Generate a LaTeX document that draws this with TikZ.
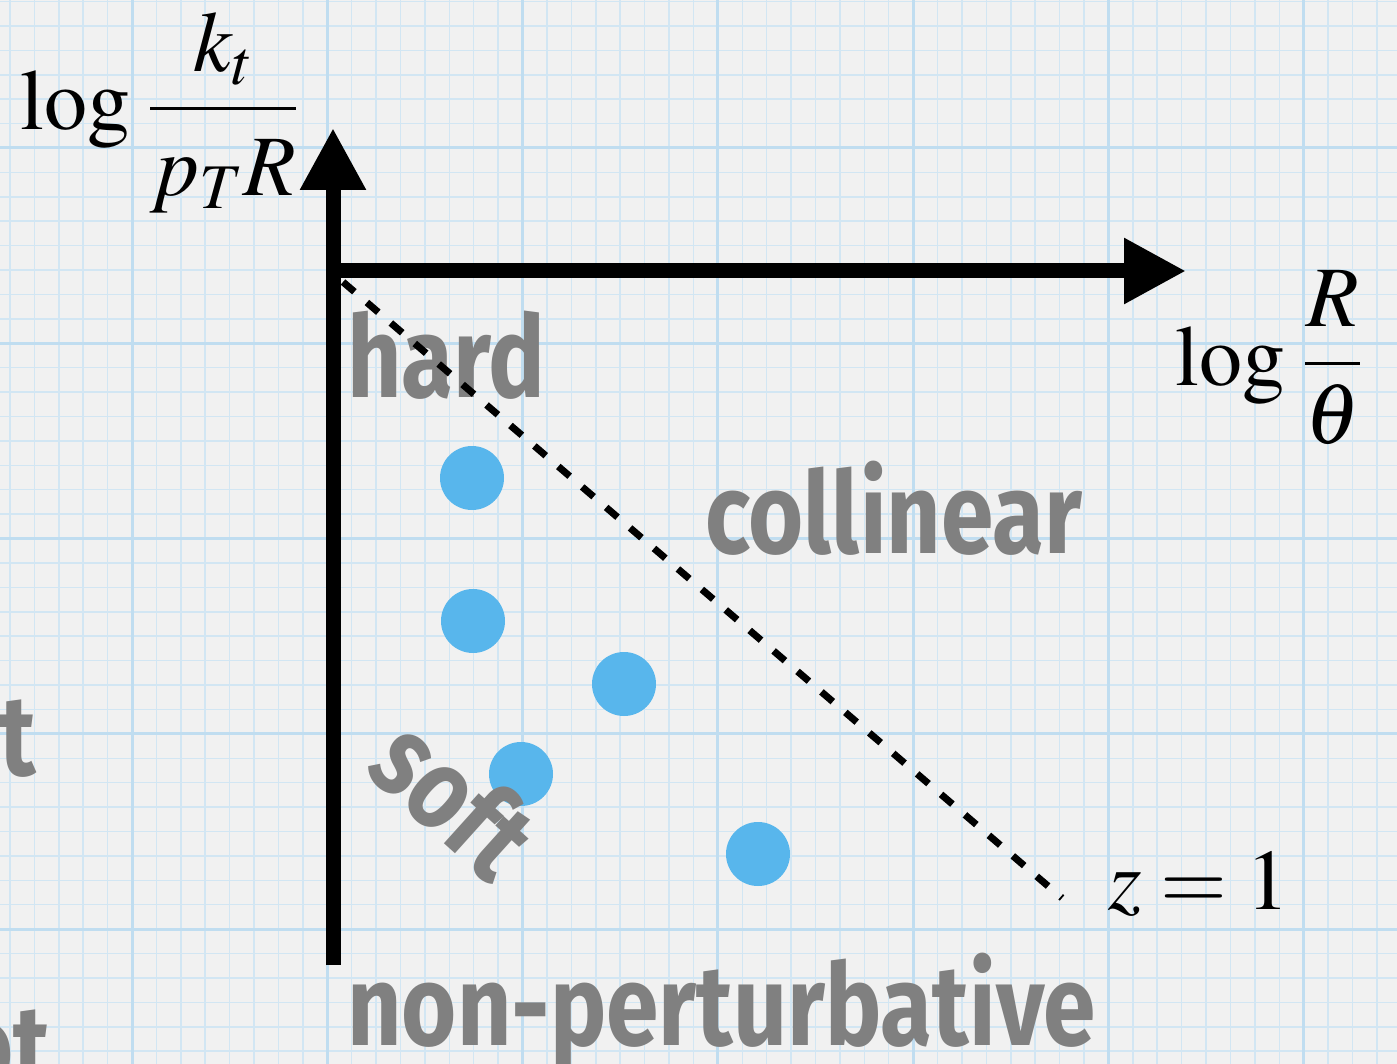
\documentclass[tikz,border=0pt]{standalone}
\usepackage{amsmath}
\usepackage{mathptmx}
\usepackage{fontspec}
\setmainfont{Liberation Serif}
\newfontfamily\handfont[FakeStretch=0.83]{Fira Sans}
\usetikzlibrary{arrows.meta}
\definecolor{paper}{RGB}{241,241,241}
\definecolor{gridminor}{RGB}{210,230,243}
\definecolor{gridmajor}{RGB}{192,221,240}
\definecolor{dotblue}{RGB}{88,182,236}
\definecolor{chalkgray}{RGB}{128,128,128}

\begin{document}
\begin{tikzpicture}[x=1pt, y=-1pt,
    axisline/.style={line width=15pt, -{Triangle[length=62pt, width=62pt]}},
    zline/.style={line width=7pt, dash pattern=on 15pt off 16.5pt},
    emit/.style={circle, fill=dotblue, minimum size=64pt, inner sep=0pt},
    region/.style={font=\handfont\bfseries\fontsize{114}{120}\selectfont, text=chalkgray, inner sep=0pt},
    mathlbl/.style={font=\fontsize{86}{100}\selectfont, inner sep=0pt}
  ]
  \useasboundingbox (0,0) rectangle (1397,1064);
  \fill[paper] (0,0) rectangle (1397,1064);
  \clip (0,0) rectangle (1397,1064);
  \foreach \k in {-6,...,52}
    \draw[gridminor, line width=1.5pt] ({132+24.41*\k},0) -- ++(0,1064);
  \foreach \k in {-6,...,38}
    \draw[gridminor, line width=1.5pt] (0,{148+24.41*\k}) -- ++(1397,0);
  \foreach \m in {0,...,6}
    \draw[gridmajor, line width=3pt] ({132+195.3*\m},0) -- ++(0,1064);
  \foreach \m in {0,...,4}
    \draw[gridmajor, line width=3pt] (0,{148+195.3*\m}) -- ++(1397,0);

  \node[region, anchor=base west] (hard) at (347,397) {hard};
  \node[region, anchor=base west] (coll) at (705,553) {collinear};
  \node[region, anchor=base west] (nonpert) at (347,1045) {non-perturbative};
  \node[region, anchor=base east] (cutt) at (36,775) {t};
  \node[region, anchor=base east] (cutot) at (50,1085) {ot};

  \coordinate (zstart) at (343,282);
  \coordinate (zend) at (1062,898);
  \draw[zline] (zstart) -- (zend);

  \coordinate (orig) at (333,271);
  \coordinate (ytop) at (333,128);
  \coordinate (ybot) at (333,965);
  \coordinate (xtip) at (1186,271);
  \draw[axisline] (ybot) -- (ytop);
  \draw[axisline] (orig) -- (xtip);

  \node[emit] (e1) at (472,478) {};
  \node[emit] (e2) at (473,621) {};
  \node[emit] (e3) at (624,684) {};
  \node[emit] (e4) at (521,774) {};
  \node[emit] (e5) at (758,854) {};

  \node[region, rotate=-42] (soft) at (455,797) {soft};

  \node[mathlbl, anchor=base west] (ylbl) at (20,130)
    {$\log\mkern2mu\dfrac{\rule[-22pt]{0pt}{22pt}k_t}{\rule{0pt}{75pt}p_TR}$};
  \node[mathlbl, anchor=base west] (xlbl) at (1175,385) {$\log\mkern2mu\dfrac{R}{\theta}$};
  \node[mathlbl, anchor=base west] (zlbl) at (1108,909) {$z=1$};
\end{tikzpicture}
\end{document}
